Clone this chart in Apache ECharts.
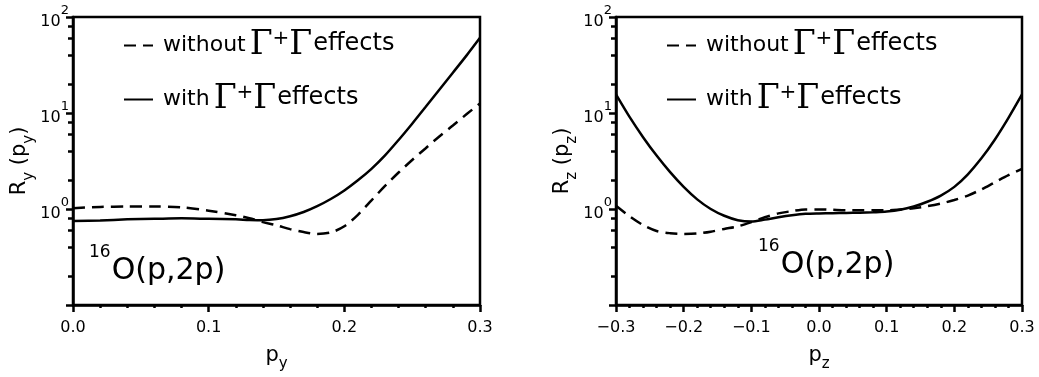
<!DOCTYPE html>
<html>
<head>
<meta charset="utf-8">
<script src="https://cdn.jsdelivr.net/npm/echarts@6/dist/echarts.min.js"></script>
<style>
html,body{margin:0;padding:0;background:#fff;}
#chart{width:1039px;height:377px;}
</style>
</head>
<body>
<div id="chart"></div>
<script>
// ---- data ----
const leftP = [0, 0.02, 0.04, 0.06, 0.08, 0.10, 0.12, 0.13, 0.14, 0.15, 0.16, 0.17, 0.18, 0.19, 0.20, 0.21, 0.22, 0.23, 0.24, 0.25, 0.26, 0.27, 0.28, 0.29, 0.30];
const leftWithout = [1.02, 1.05, 1.06, 1.06, 1.04, 0.96, 0.86, 0.80, 0.73, 0.676, 0.617, 0.575, 0.55, 0.57, 0.66, 0.87, 1.23, 1.74, 2.4, 3.24, 4.3, 5.7, 7.4, 9.7, 12.6];
const leftWith = [0.75, 0.76, 0.78, 0.79, 0.80, 0.79, 0.78, 0.77, 0.765, 0.785, 0.84, 0.93, 1.07, 1.27, 1.56, 1.99, 2.62, 3.62, 5.24, 7.74, 11.6, 17.5, 26.3, 39.6, 60.7];

const rightP = [-0.30, -0.28, -0.26, -0.24, -0.22, -0.20, -0.18, -0.16, -0.14, -0.12, -0.10, -0.08, -0.06, -0.04, -0.02, 0.00, 0.02, 0.04, 0.06, 0.08, 0.10, 0.12, 0.14, 0.16, 0.18, 0.20, 0.22, 0.24, 0.26, 0.28, 0.30];
const rightWith = [15.6, 9.1, 5.6, 3.6, 2.42, 1.70, 1.26, 1.0, 0.85, 0.765, 0.74, 0.775, 0.82, 0.86, 0.89, 0.90, 0.905, 0.91, 0.915, 0.925, 0.94, 0.98, 1.06, 1.19, 1.38, 1.7, 2.3, 3.37, 5.3, 8.9, 15.6];
const rightWithout = [1.08, 0.84, 0.68, 0.59, 0.56, 0.55, 0.555, 0.58, 0.62, 0.66, 0.73, 0.82, 0.90, 0.95, 0.99, 0.99, 0.98, 0.97, 0.97, 0.97, 0.97, 0.99, 1.02, 1.07, 1.14, 1.24, 1.38, 1.6, 1.9, 2.25, 2.62];

const yMinorTicks = [0.2, 0.4, 0.6, 0.8, 2, 4, 6, 8, 20, 40, 60, 80];
const seriesNames = ['without', 'with'];
const reactionLabel = 'O(p,2p)';
const reactionMass = '16';

// ---- helpers ----
const FONT = 'DejaVu Sans';
const SERIF = 'DejaVu Serif';
function pairs(xs, ys) { return xs.map((x, i) => [x, ys[i]]); }
function fmtX(v) {
  const r = Math.round(v * 10) / 10;
  if (Math.abs(r) < 1e-9) return '0.0';
  return (r < 0 ? '\u2212' : '') + Math.abs(r).toFixed(1);
}
function fmtY(v) {
  const e = Math.round(Math.log10(v));
  if (e < 0) return '';
  return '{b|10}{s|' + e + '}';
}
const yLabelRich = {
  b: { fontFamily: FONT, fontSize: 16, color: '#000', verticalAlign: 'bottom' },
  s: { fontFamily: FONT, fontSize: 13, color: '#000', verticalAlign: 'top', padding: [0, 0, 12, 0] }
};
const nameRich = {
  r: { fontFamily: FONT, fontSize: 21, color: '#000', verticalAlign: 'top' },
  s: { fontFamily: FONT, fontSize: 15, color: '#000', verticalAlign: 'bottom', padding: [12, 0, 0, 0] }
};
const legendRich = {
  t0: { fontFamily: FONT, fontSize: 22, color: '#000', verticalAlign: 'bottom', padding: [0, 4, 6, 5] },
  t: { fontFamily: FONT, fontSize: 24, color: '#000', verticalAlign: 'bottom', padding: [0, 0, 6, 1] },
  g: { fontFamily: SERIF, fontSize: 33, color: '#000', verticalAlign: 'bottom' },
  p: { fontFamily: FONT, fontSize: 20, color: '#000', verticalAlign: 'top' }
};
function legendFmt(name) {
  const w = name === 'without' ? 'without' : 'with';
  return '{t0|' + w + '}{g|\u0393}{p|+}{g|\u0393}{t|effects}';
}

function xAxisDef(gridIndex, min, max, sub) {
  return {
    type: 'value', gridIndex, min, max, interval: 0.1,
    name: '{r|p}{s|' + sub + '}', nameLocation: 'middle', nameGap: 40,
    nameTextStyle: { rich: nameRich },
    axisLine: { show: true, onZero: false, lineStyle: { color: '#000', width: 2.5 } },
    axisTick: { show: true, length: 7, lineStyle: { color: '#000', width: 2.5 } },
    minorTick: { show: true, splitNumber: 5, length: 3, lineStyle: { color: '#000', width: 2.5 } },
    axisLabel: { formatter: fmtX, margin: 15, fontFamily: FONT, fontSize: 16, color: '#000' },
    splitLine: { show: false }
  };
}
function yAxisDef(gridIndex, sub) {
  return {
    type: 'log', logBase: 10, gridIndex, min: 0.1, max: 100,
    name: '{r|R}{s|' + sub + '}{r| (p}{s|' + sub + '}{r|)}',
    nameLocation: 'middle', nameGap: 35, nameRotate: 90,
    nameTextStyle: { rich: nameRich },
    axisLine: { show: true, onZero: false, lineStyle: { color: '#000', width: 2.5 } },
    axisTick: { show: true, length: 7, lineStyle: { color: '#000', width: 2.5 } },
    axisLabel: { formatter: fmtY, margin: 4, rich: yLabelRich },
    splitLine: { show: false }
  };
}
function yMinorDef(gridIndex) {
  return {
    type: 'log', logBase: 10, gridIndex, min: 0.1, max: 100, position: 'left',
    axisLine: { show: false, onZero: false },
    axisTick: { show: true, length: 5, customValues: yMinorTicks, lineStyle: { color: '#000', width: 2.5 } },
    axisLabel: { show: false },
    splitLine: { show: false }
  };
}
function lineSeries(name, xi, yi, data, dashed) {
  return {
    type: 'line', name, xAxisIndex: xi, yAxisIndex: yi, data,
    smooth: 0.3, symbol: 'none', showSymbol: false, silent: true,
    lineStyle: { color: '#000', width: 2.5, type: dashed ? [12, 7] : 'solid' },
    itemStyle: { color: '#000' }
  };
}
function legendDef(left) {
  return {
    left, top: 24, orient: 'vertical', itemWidth: 29, itemHeight: 14, itemGap: 21,
    data: seriesNames, formatter: legendFmt, selectedMode: false,
    itemStyle: { color: 'rgba(0,0,0,0)', borderWidth: 0, opacity: 0 },
    textStyle: { rich: legendRich }
  };
}
function reactionText(left, top) {
  return { type: 'text', left, top, silent: true,
    style: { text: '{a|' + reactionMass + '}{b|' + reactionLabel + '}',
      rich: { a: { fontFamily: FONT, fontSize: 17, fill: '#000', verticalAlign: 'top' },
              b: { fontFamily: FONT, fontSize: 30, fill: '#000', verticalAlign: 'bottom', padding: [12, 0, 0, 1] } } } };
}

const option = {
  animation: false,
  backgroundColor: '#fff',
  grid: [
    { left: 73, right: 559, top: 17, bottom: 71, show: true, borderColor: '#000', borderWidth: 2.5 },
    { left: 616, right: 17, top: 17, bottom: 71, show: true, borderColor: '#000', borderWidth: 2.5 }
  ],
  xAxis: [xAxisDef(0, 0, 0.3, 'y'), xAxisDef(1, -0.3, 0.3, 'z')],
  yAxis: [yAxisDef(0, 'y'), yMinorDef(0), yAxisDef(1, 'z'), yMinorDef(1)],
  legend: [legendDef(118), legendDef(661)],
  series: [
    lineSeries(seriesNames[0], 0, 0, pairs(leftP, leftWithout), true),
    lineSeries(seriesNames[1], 0, 0, pairs(leftP, leftWith), false),
    lineSeries(seriesNames[0], 1, 2, pairs(rightP, rightWithout), true),
    lineSeries(seriesNames[1], 1, 2, pairs(rightP, rightWith), false)
  ],
  graphic: [reactionText(89, 244), reactionText(758, 238)]
};
const chart = echarts.init(document.getElementById('chart'), null, { renderer: 'canvas' });
chart.setOption(option);
</script>
</body>
</html>
